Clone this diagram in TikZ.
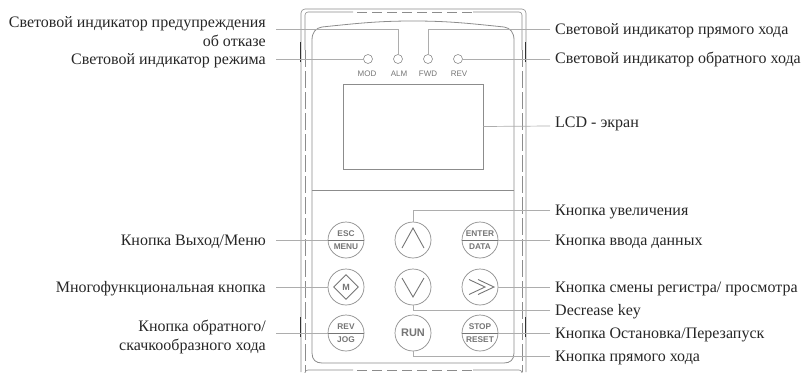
\documentclass[tikz,border=0pt]{standalone}
\usepackage{fontspec}
\setmainfont{Liberation Serif}
\setsansfont{Liberation Sans}
\usepackage{xcolor}
\usetikzlibrary{shapes.geometric,positioning,calc}
\definecolor{framegray}{gray}{0.55}
\definecolor{leadgray}{gray}{0.68}
\definecolor{keygray}{gray}{0.46}
\tikzset{
  caption/.style={font=\fontsize{16}{19}\selectfont, inner sep=0pt, text=black!85, yshift=-1.5pt},
  leftcap/.style={caption, anchor=east, align=right},
  rightcap/.style={caption, anchor=west, align=left},
  lead/.style={draw=leadgray, line width=0.7pt},
  frameline/.style={draw=framegray, line width=0.6pt},
  framedash/.style={frameline, dash pattern=on 17pt off 4pt},
  led/.style={circle, draw=framegray, line width=0.6pt, minimum size=9pt, inner sep=0pt},
  ledname/.style={font=\sffamily\fontsize{8}{9}\selectfont, text=keygray, inner sep=0pt},
  keybtn/.style={circle, draw=framegray, line width=0.7pt, minimum size=36pt, inner sep=0pt, text=keygray,
    font=\sffamily\bfseries\fontsize{8.3}{13}\selectfont, align=center},
  keymark/.style={draw=keygray, line width=0.9pt}
}
\begin{document}
\begin{tikzpicture}[x=1pt, y=-1pt]
  \useasboundingbox (0,0) rectangle (805,372);
  % housing
  \draw[frameline, rounded corners=4pt] (301,372) -- (301,9) -- (526,9) -- (526,372);
  \draw[frameline, rounded corners=3pt] (305,50) -- (305,12) -- (353,12);
  \draw[frameline, rounded corners=3pt] (522,50) -- (522,12) -- (473,12);
  \draw[framedash] (305,50) -- (305,372);
  \draw[framedash] (522,50) -- (522,372);
  \draw[frameline, dash pattern=on 10pt off 5pt] (357,12) -- (472,12);
  \draw[frameline, rounded corners=3pt] (305,372) -- (305,370) -- (353,370);
  \draw[frameline, rounded corners=3pt] (522,372) -- (522,370) -- (473,370);
  \draw[frameline, dash pattern=on 10pt off 5pt] (357,370) -- (472,370);
  \draw[line width=0.9pt, draw=black!80] (300.7,42) -- (300.7,62) (525.7,42) -- (525.7,62) (300.7,317) -- (300.7,337) (525.7,317) -- (525.7,337);
  \draw[frameline, line width=0.8pt] (322,27) .. controls (360,23) and (380,21) .. (413,21) .. controls (446,21) and (466,23) .. (504,27)
    .. controls (510,28) and (514,32) .. (514,40) -- (514,353) .. controls (514,360) and (510,363) .. (504,363) -- (322,363)
    .. controls (316,363) and (312,360) .. (312,353) -- (312,40) .. controls (312,32) and (316,28) .. (322,27) -- cycle;
  \draw[frameline] (312,190) -- (514,190);
  \node[draw=framegray, line width=0.6pt, minimum width=140pt, minimum height=85pt, inner sep=0pt] (lcd) at (413,126.5) {};
  % indicators
  \node[led] (ledmod) at (368,59) {};
  \node[led] (ledalm) at (398,59) {};
  \node[led] (ledfwd) at (428,59) {};
  \node[led] (ledrev) at (458,59) {};
  \node[ledname] (namemod) at (367,74) {MOD};
  \node[ledname] (namealm) at (399,74) {ALM};
  \node[ledname] (namefwd) at (428,74) {FWD};
  \node[ledname] (namerev) at (459,74) {REV};
  % keys
  \node[keybtn] (btnesc) at (346,240) {ESC\\MENU};
  \node[keybtn] (btnup) at (413,240) {};
  \node[keybtn] (btnent) at (480,240) {ENTER\\DATA};
  \node[keybtn] (btnm) at (346,287) {};
  \node[keybtn] (btndown) at (413,287) {};
  \node[keybtn] (btnshift) at (480,287) {};
  \node[keybtn] (btnrev) at (346,333) {REV\\JOG};
  \node[keybtn, font=\sffamily\bfseries\fontsize{11}{12}\selectfont] (btnrun) at (413,333) {RUN};
  \node[keybtn] (btnstop) at (480,333) {STOP\\RESET};
  \node[diamond, draw=keygray, line width=0.9pt, minimum size=25pt, inner sep=0pt, text=keygray, font=\sffamily\bfseries\fontsize{9}{10}\selectfont] (keym) at (btnm) {M};
  \draw[keymark] ($(btnup)+(-11,8)$) -- ($(btnup)+(0,-12)$) -- ($(btnup)+(11,8)$);
  \draw[keymark] ($(btndown)+(-11,-9)$) -- ($(btndown)+(0,10)$) -- ($(btndown)+(11,-9)$);
  \draw[keymark] ($(btnshift)+(-11,-7.5)$) -- ($(btnshift)+(5,0)$) -- ($(btnshift)+(-11,7.5)$);
  \draw[keymark] ($(btnshift)+(-2,-7.5)$) -- ($(btnshift)+(14,0)$) -- ($(btnshift)+(-2,7.5)$);
  \foreach \k in {btnesc,btnent,btnrev,btnstop}
    \draw[keymark, line width=0.6pt] (\k.west) -- (\k.east);
  % captions
  \node[leftcap] (capalm) at (266,30.5) {Световой индикатор предупреждения\\об отказе};
  \node[leftcap] (capmod) at (266,59) {Световой индикатор режима};
  \node[leftcap] (capesc) at (266,240) {Кнопка Выход/Меню};
  \node[leftcap] (capm) at (266,287) {Многофункциональная кнопка};
  \node[leftcap] (caprev) at (266,335) {Кнопка обратного/\\скачкообразного хода};
  \node[rightcap] (capfwd) at (555,29) {Световой индикатор прямого хода};
  \node[rightcap] (caprv) at (555,58) {Световой индикатор обратного хода};
  \node[rightcap] (caplcd) at (555,122) {LCD - экран};
  \node[rightcap] (capup) at (555,210) {Кнопка увеличения};
  \node[rightcap] (capent) at (555,240) {Кнопка ввода данных};
  \node[rightcap] (capshift) at (555,287) {Кнопка смены регистра/ просмотра};
  \node[rightcap] (capdown) at (555,310) {Decrease key};
  \node[rightcap] (capstop) at (555,333) {Кнопка Остановка/Перезапуск};
  \node[rightcap] (caprun) at (555,356) {Кнопка прямого хода};
  % free ends of the leaders
  \coordinate (endalm) at (276,29);
  \coordinate (endmod) at (276,59);
  \coordinate (endesc) at (276,240);
  \coordinate (endm) at (276,287);
  \coordinate (endrev) at (276,333);
  \coordinate (endfwd) at (550,29);
  \coordinate (endrv) at (550,59);
  \coordinate (endlcd) at (550,126);
  \coordinate (endup) at (550,210);
  \coordinate (endent) at (550,240);
  \coordinate (endshift) at (550,287);
  \coordinate (enddown) at (550,310);
  \coordinate (endstop) at (550,333);
  \coordinate (endrun) at (550,356);
  % leaders
  \draw[lead] (endalm) -| (ledalm.north);
  \draw[lead] (endmod) -- (ledmod.west);
  \draw[lead] (endesc) -- (btnesc.west);
  \draw[lead] (endm) -- (btnm.west);
  \draw[lead] (endrev) -- (btnrev.west);
  \draw[lead] (endfwd) -| (ledfwd.north);
  \draw[lead] (endrv) -- (ledrev.east);
  \draw[lead] (endlcd) -- (lcd.east);
  \draw[lead] (endup) -| (btnup.north);
  \draw[lead] (endent) -- (btnent.east);
  \draw[lead] (endshift) -- (btnshift.east);
  \draw[lead] (enddown) -| (btndown.south);
  \draw[lead] (endstop) -- (btnstop.east);
  \draw[lead] (endrun) -| (btnrun.south);
\end{tikzpicture}
\end{document}
